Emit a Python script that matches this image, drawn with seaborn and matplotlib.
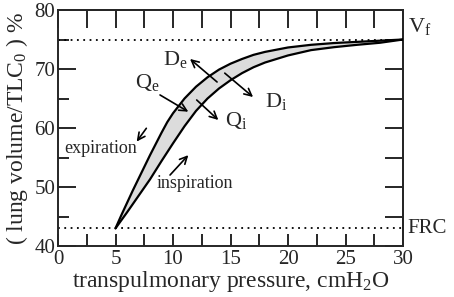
import numpy as np
import pandas as pd
import seaborn as sns
import matplotlib
matplotlib.use("Agg")
import matplotlib.pyplot as plt

# %%-----------------------------------------------------------------------
# data

# expiration branch (upper curve)
exp_pressure = [5, 5.5, 6, 6.5, 7, 7.5, 8, 8.5, 9, 9.5, 10, 11, 12, 13, 14, 15,
                16, 17, 18, 20, 22, 24, 26, 28, 30]
exp_volume = [43.0, 45.2, 47.3, 49.4, 51.4, 53.4, 55.4, 57.3, 59.2, 61.0, 62.5, 65.0,
              67.0, 68.6, 69.9, 70.9, 71.7, 72.4, 72.9, 73.65, 74.1, 74.4, 74.6, 74.8, 75.0]

# inspiration branch (lower curve)
insp_pressure = [5, 6, 7, 8, 9, 10, 11, 12, 13, 14, 15, 16, 17, 18, 20, 22, 24,
                 26, 28, 30]
insp_volume = [43.0, 45.7, 48.5, 51.3, 54.4, 57.4, 60.3, 62.9, 65.0, 66.7, 68.1, 69.3,
               70.3, 71.1, 72.3, 73.2, 73.7, 74.1, 74.45, 75.0]

vf_level = 75
frc_level = 43

x_ticks = [0, 5, 10, 15, 20, 25, 30]
y_ticks = [40, 50, 60, 70, 80]

# arrows: (tail, head)
arrows = {
    "De": ((13.83, 67.8), (11.48, 71.7)),
    "Di": ((14.5, 69.3), (16.96, 65.25)),
    "Qe": ((8.87, 65.6), (11.33, 62.76)),
    "Qi": ((12.06, 64.75), (13.94, 61.36)),
    "exp": ((7.68, 59.95), (6.84, 57.7)),
    "insp": ((9.74, 52.03), (11.33, 55.4)),
}

# %%-----------------------------------------------------------------------
# style

sns.set_style("ticks")
plt.rcParams["font.family"] = ["Liberation Serif", "DejaVu Serif"]
plt.rcParams["mathtext.fontset"] = "custom"
plt.rcParams["mathtext.rm"] = "Liberation Serif"
plt.rcParams["mathtext.it"] = "Liberation Serif:italic"
plt.rcParams["mathtext.default"] = "regular"

fig = plt.figure(figsize=(4.54, 2.97), dpi=100)
ax = fig.add_axes([0.1278, 0.1717, 0.7599, 0.7946])

exp_df = pd.DataFrame({"p": exp_pressure, "v": exp_volume})
insp_df = pd.DataFrame({"p": insp_pressure, "v": insp_volume})

# shaded hysteresis band
ax.fill(list(exp_df.p) + list(insp_df.p[::-1]),
        list(exp_df.v) + list(insp_df.v[::-1]),
        color="#dcdcdc", lw=0, zorder=1)

sns.lineplot(data=exp_df, x="p", y="v", sort=False, color="black", lw=1.6, ax=ax, zorder=3)
sns.lineplot(data=insp_df, x="p", y="v", sort=False, color="black", lw=1.6, ax=ax, zorder=3)

ax.axhline(vf_level, color="black", ls=(0, (1, 2.5)), lw=1.3, zorder=2)
ax.axhline(frc_level, color="black", ls=(0, (1, 2.5)), lw=1.3, zorder=2)

for tail, head in arrows.values():
    ax.annotate("", xy=head, xytext=tail,
                arrowprops=dict(arrowstyle="->", lw=1.2, color="black",
                                mutation_scale=13, shrinkA=0, shrinkB=0))

# %%-----------------------------------------------------------------------
# labels

ax.text(9.13, 70.7, r"D$_e$", fontsize=16, ha="left", va="baseline")
ax.text(6.7, 66.8, r"Q$_e$", fontsize=16, ha="left", va="baseline")
ax.text(14.5, 60.3, r"Q$_i$", fontsize=16, ha="left", va="baseline")
ax.text(18.0, 63.6, r"D$_i$", fontsize=16, ha="left", va="baseline")
ax.text(0.5, 55.8, "expiration", fontsize=13, ha="left", va="baseline")
ax.text(8.6, 49.8, "inspiration", fontsize=13, ha="left", va="baseline")
ax.text(30.4, 76.3, r"V$_f$", fontsize=16, ha="left", va="baseline", clip_on=False)
ax.text(30.4, 42.2, "FRC", fontsize=15, ha="left", va="baseline", clip_on=False)

ax.set_xlim(0, 30)
ax.set_ylim(40, 80)
ax.set_xticks(x_ticks)
ax.set_yticks(y_ticks)
ax.set_xticks(np.arange(0, 31, 2.5), minor=True)
ax.set_yticks(np.arange(40, 81, 5), minor=True)
ax.tick_params(axis="both", which="both", direction="in", width=1.4, labelsize=15)
ax.tick_params(axis="x", which="both", length=9, pad=3)
ax.tick_params(axis="y", which="major", length=13, pad=2)
ax.tick_params(axis="y", which="minor", length=8)

top = ax.secondary_xaxis("top")
top.set_xticks(np.arange(0, 31, 2.5))
top.set_xticklabels([])
top.tick_params(direction="in", length=13, width=1.4)

right = ax.secondary_yaxis("right")
right.set_yticks(np.arange(40, 81, 5))
right.set_yticklabels([])
right.tick_params(direction="in", length=13, width=1.4)

for spine in list(ax.spines.values()) + [top.spines["top"], right.spines["right"]]:
    spine.set_linewidth(1.4)

ax.set_xlabel(r"transpulmonary pressure, cmH$_2$O", fontsize=17, labelpad=0)
ax.set_ylabel(r"( lung volume/TLC$_0$ ) %", fontsize=17, labelpad=3)

fig.savefig("out.png", dpi=100)
